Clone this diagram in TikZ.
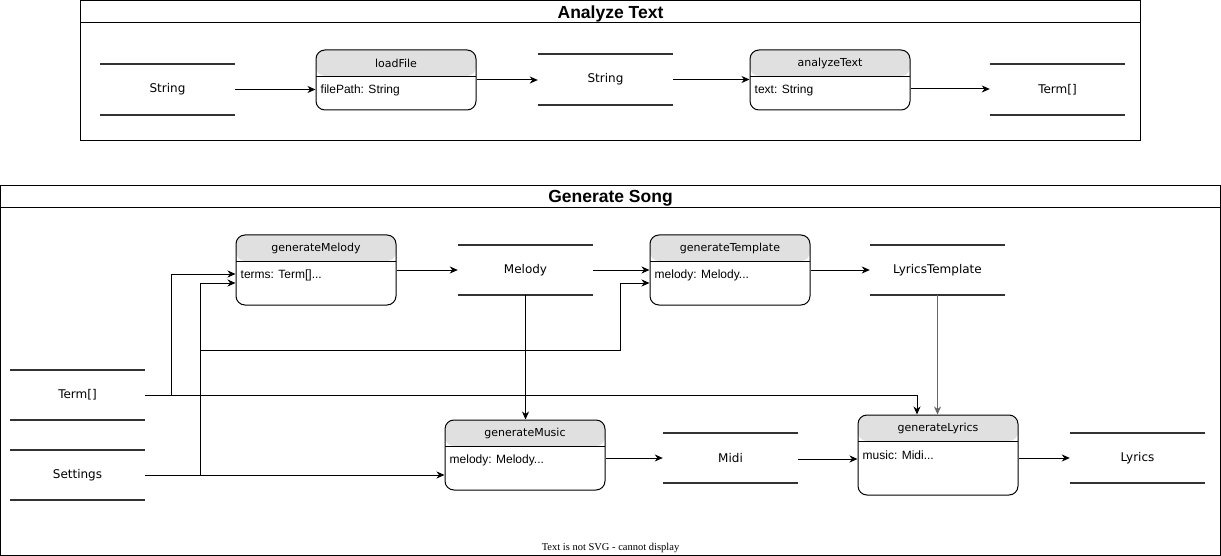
\documentclass[tikz,border=0pt]{standalone}
\usepackage{fontspec}
\usetikzlibrary{arrows.meta,calc}
\newfontfamily\dvfont{DejaVu Sans}
\newfontfamily\lsfont{Liberation Sans}
\newfontfamily\serfont{Liberation Serif}
\definecolor{hdrgray}{HTML}{E0E0E0}
\definecolor{storegray}{HTML}{333333}
\definecolor{linkgray}{HTML}{666666}
\tikzset{
  frame/.style={draw=black, line width=1pt},
  title/.style={font=\lsfont\bfseries\fontsize{17.5}{20}\selectfont, inner sep=0pt},
  proc/.style={draw=black, line width=1pt, rounded corners=9pt, minimum width=160pt, minimum height=60pt, inner sep=0pt,
    path picture={
      \fill[hdrgray] (path picture bounding box.north west) rectangle ([yshift=-26pt]path picture bounding box.north east);
      \draw[line width=0.8pt] ([yshift=-26pt]path picture bounding box.north west) -- ([yshift=-26pt]path picture bounding box.north east);
    }},
  hdr/.style={font=\dvfont\fontsize{11}{13}\selectfont, inner sep=0pt},
  body/.style={font=\lsfont\fontsize{12}{14}\selectfont, inner sep=0pt, anchor=west},
  store/.style={minimum width=135pt, minimum height=50pt, inner sep=0pt, font=\dvfont\fontsize{12}{14}\selectfont},
  storeline/.style={draw=storegray, line width=2pt},
  arr/.style={draw=black, line width=1pt, -{Stealth[length=8pt,width=7pt,inset=2.5pt]}},
  garr/.style={arr, draw=linkgray, line width=1.3pt, -{Stealth[length=8pt,width=7pt,inset=2.5pt,color=linkgray]}}
}
\begin{document}
\begin{tikzpicture}[x=1pt,y=-1pt]
\useasboundingbox (0,0) rectangle (1221,556);
\fill[white] (0,0) rectangle (1221,556);

% ---------- Analyze Text ----------
\draw[frame] (80.5,0.5) rectangle (1140.5,140.5);
\draw[frame] (80.5,23) -- (1140.5,23);
\node[title] (t1) at (610.5,13.5) {Analyze Text};

\node[store] (s1) at (167.5,89.5) {String};
\node[proc] (at) at (830,80) {};
\node[proc] (lf) at (396,80) {};
\node[hdr] (lfh) at ([yshift=-13.5pt]lf.north) {loadFile};
\node[body] (lfb) at ([xshift=5pt,yshift=-41pt]lf.north west) {filePath: String};
\node[store] (s2) at (605.5,79.5) {String};
\node[hdr] (ath) at ([yshift=-13.5pt]at.north) {analyzeText};
\node[body] (atb) at ([xshift=5pt,yshift=-41pt]at.north west) {text: String};
\node[store] (s3) at (1057.5,89.5) {Term[]};

% ---------- Generate Song ----------
\draw[frame] (0.5,185.5) rectangle (1220.5,555.5);
\draw[frame] (0.5,208) -- (1220.5,208);
\node[title] (t2) at (610.5,198.5) {Generate Song};

\node[proc, minimum height=70pt] (gm) at (316,270) {};
\node[hdr] (gmh) at ([yshift=-13.5pt]gm.north) {generateMelody};
\node[body] (gmb) at ([xshift=5pt,yshift=-41pt]gm.north west) {terms: Term[]...};

\node[store] (m) at (525.5,270) {Melody};

\node[proc, minimum height=70pt] (gt) at (730,270) {};
\node[hdr] (gth) at ([yshift=-13.5pt]gt.north) {generateTemplate};
\node[body] (gtb) at ([xshift=5pt,yshift=-41pt]gt.north west) {melody: Melody...};

\node[store] (lt) at (937.5,270) {LyricsTemplate};

\node[store] (tm) at (77.5,395) {Term[]};
\node[store] (st) at (77.5,475) {Settings};

\node[proc, minimum height=70pt] (gmu) at (525,455) {};
\node[hdr] (gmuh) at ([yshift=-13.5pt]gmu.north) {generateMusic};
\node[body] (gmub) at ([xshift=5pt,yshift=-41pt]gmu.north west) {melody: Melody...};

\node[store] (mi) at (730.5,458) {Midi};

\node[proc, minimum height=80pt] (gl) at (938,455) {};
\node[hdr] (glh) at ([yshift=-13.5pt]gl.north) {generateLyrics};
\node[body] (glb) at ([xshift=5pt,yshift=-41pt]gl.north west) {music: Midi...};

\node[store] (ly) at (1137.5,458) {Lyrics};

\node[font=\serfont\fontsize{10.5}{12}\selectfont, inner sep=0pt] (ft) at (610.5,548) {Text is not SVG - cannot display};

% store lines
\foreach \n in {s1,s2,s3,m,lt,tm,st,mi,ly}{
  \draw[storeline] (\n.north west) -- (\n.north east);
  \draw[storeline] (\n.south west) -- (\n.south east);
}

% ---------- connectors: Analyze ----------
\draw[arr] (s1.east) -- (s1.east -| lf.west);
\draw[arr] (lf.east) -- (lf.east -| s2.west);
\draw[arr] (s2.east) -- (s2.east -| at.west);
\draw[arr] ([yshift=-9pt]at.east) -- ([yshift=-9pt]at.east -| s3.west);

% ---------- connectors: Generate ----------
\coordinate (j) at (200.5,350.5);
\draw[arr] (tm.east) -- ++(26,0) |- ([yshift=-4pt]gm.west);
\draw[arr] (tm.east) -| ([xshift=-21pt]gl.north);
\draw[arr] (st.east) -- ([yshift=-20pt]gmu.west);
\draw[arr] (st.east) -- ++(55,0) |- ([yshift=-13pt]gm.west);
\draw[arr] (j) -- ++(420,0) |- ([yshift=-13pt]gt.west);
\draw[arr] (gm.east) -- (m.west);
\draw[arr] (m.east) -- (gt.west);
\draw[arr] (m.south) -- (m.south |- gmu.north);
\draw[arr] (gt.east) -- (lt.west);
\draw[garr] (lt.south) -- (lt.south |- gl.north);
\draw[arr] ([yshift=-3pt]gmu.east) -- (mi.west);
\draw[arr] ([yshift=-1pt]mi.east) -- ([yshift=-1pt]mi.east -| gl.west);
\draw[arr] ([yshift=-3pt]gl.east) -- (ly.west);
\end{tikzpicture}
\end{document}
